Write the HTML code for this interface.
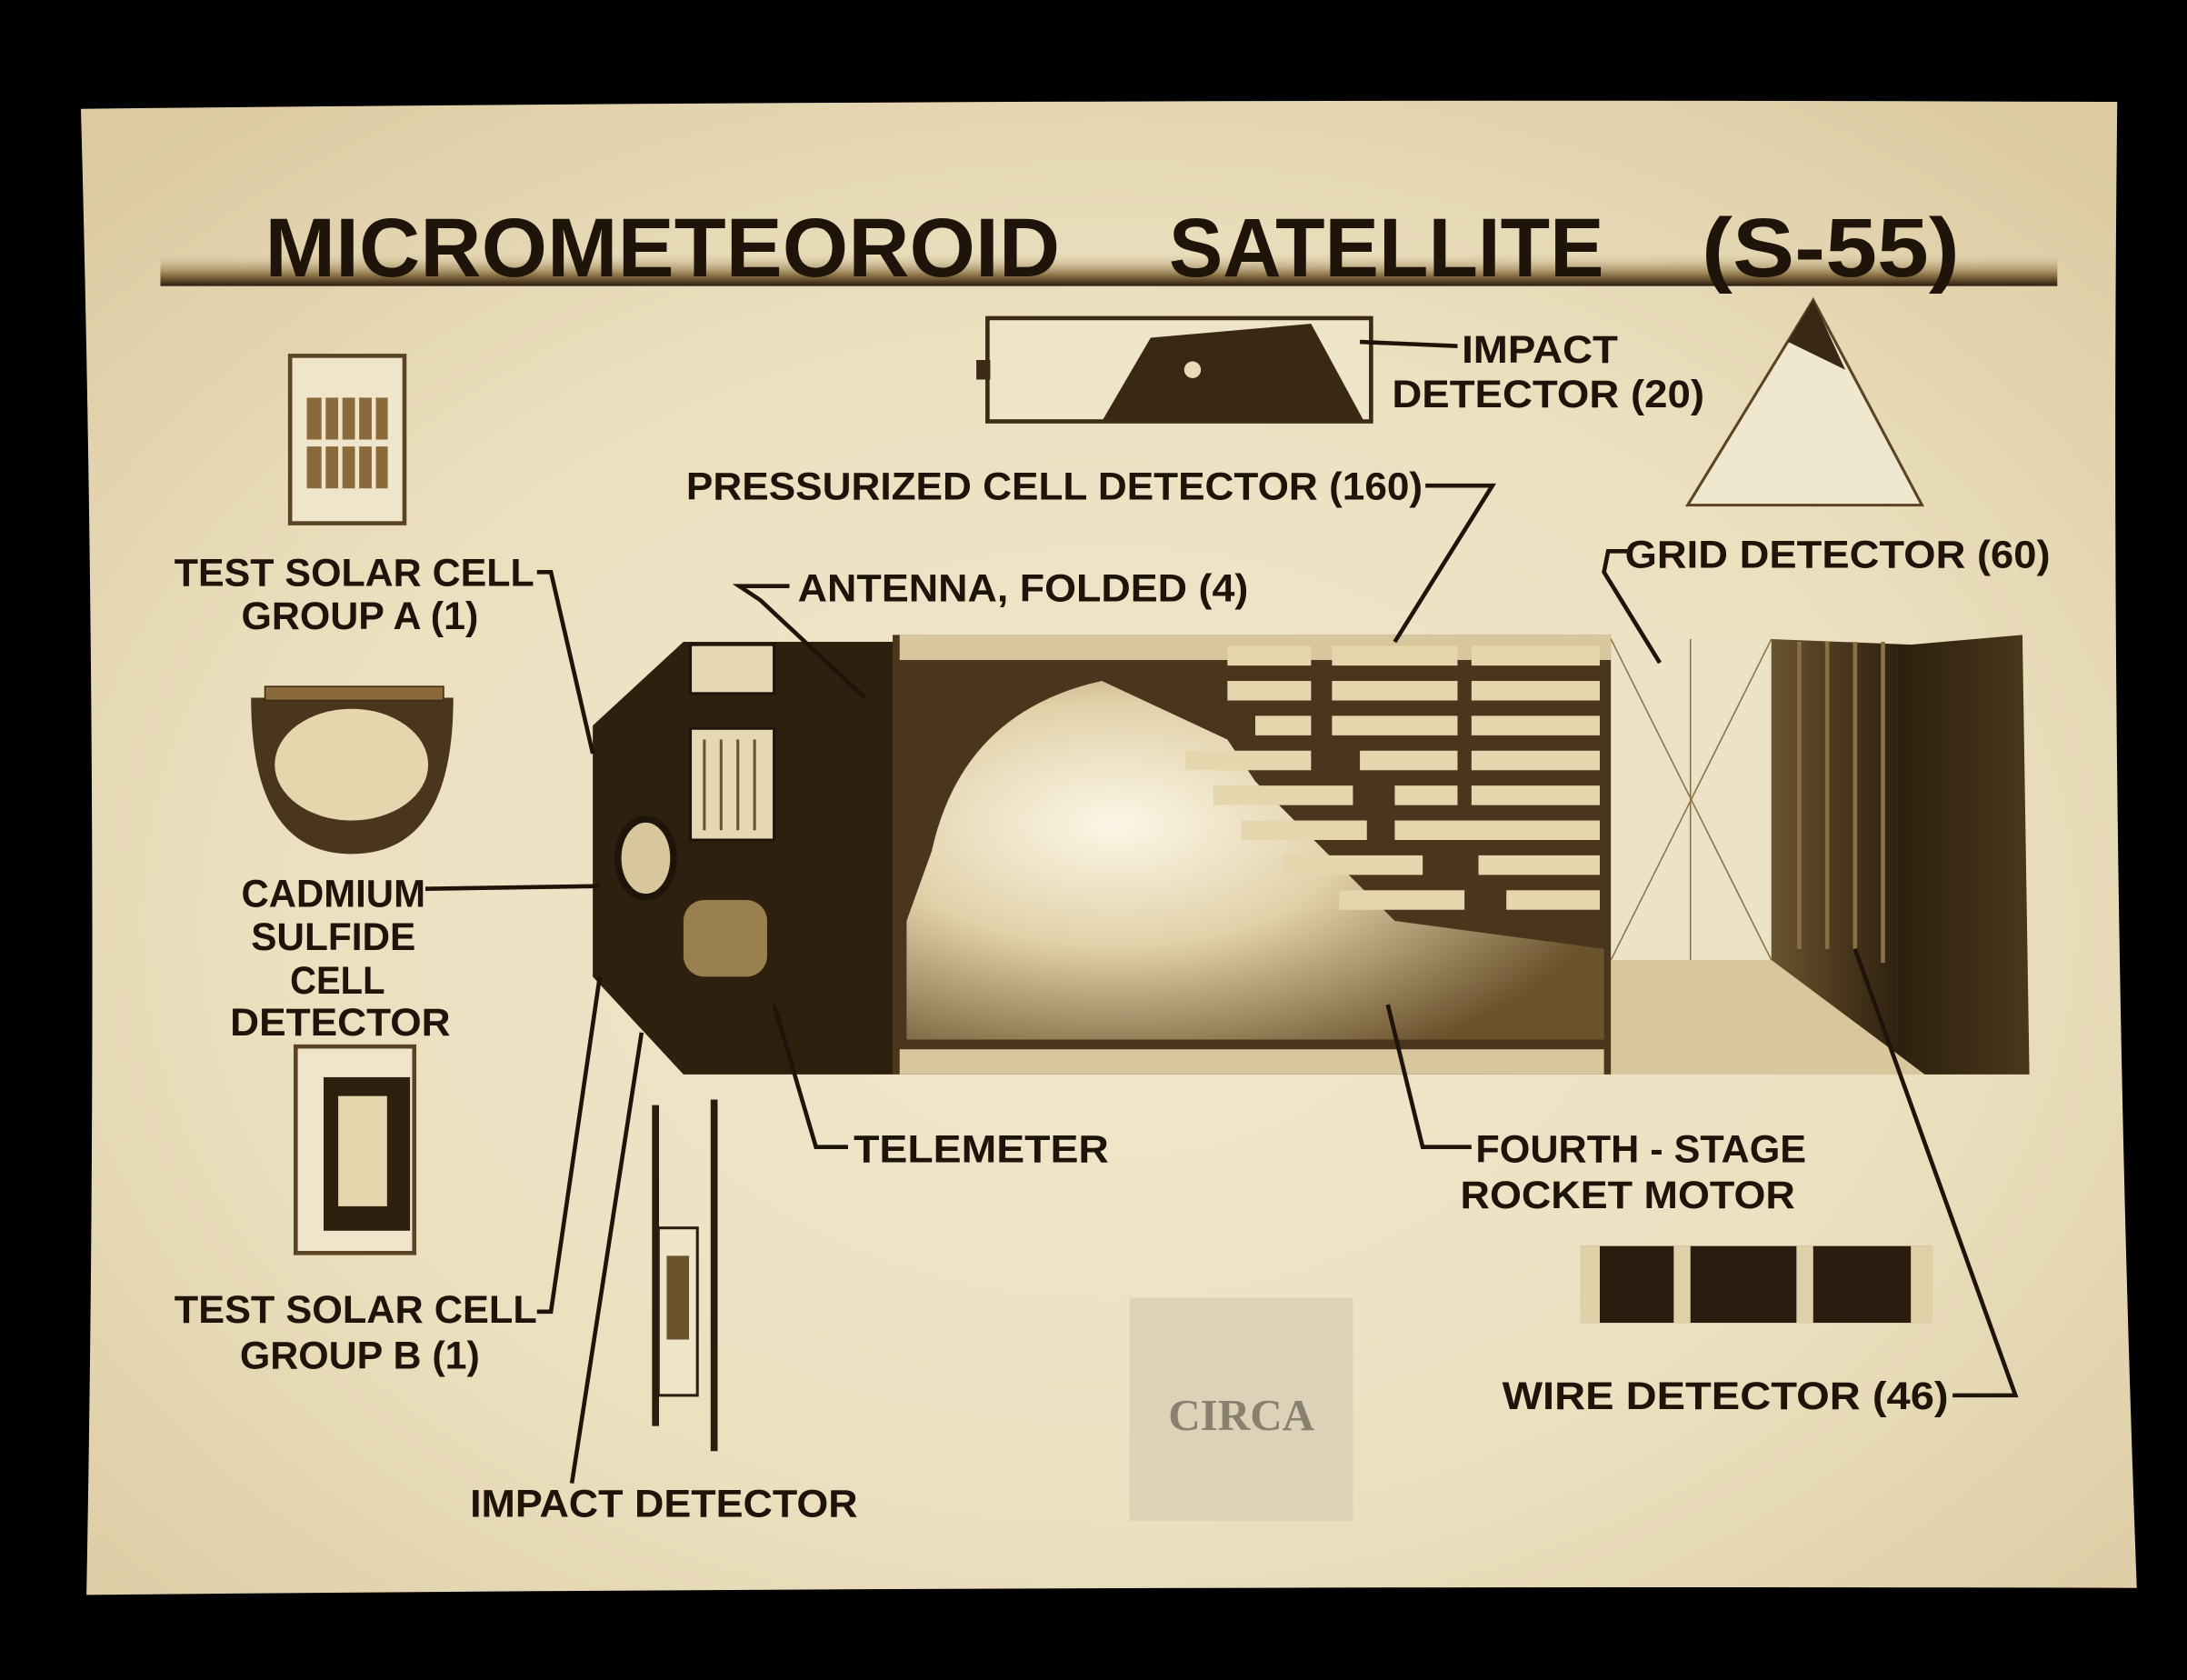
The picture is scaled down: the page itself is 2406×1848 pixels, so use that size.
<!DOCTYPE html>
<html><head><meta charset="utf-8"><style>
html,body{margin:0;padding:0;background:#000;}
svg{display:block}
text{font-family:"Liberation Sans",sans-serif;font-weight:bold;fill:#1e140a}
</style></head><body>
<svg width="2406" height="1848" viewBox="0 0 1568 1204" preserveAspectRatio="none" xmlns="http://www.w3.org/2000/svg">
<defs>
<radialGradient id="pg" cx="0.5" cy="0.55" r="0.7">
<stop offset="0" stop-color="#f1e8cf"/><stop offset="0.6" stop-color="#ebdfbe"/><stop offset="1" stop-color="#dccba2"/>
</radialGradient>
<linearGradient id="tb" x1="0" y1="0" x2="0" y2="1">
<stop offset="0" stop-color="#e9dcb8" stop-opacity="0"/><stop offset="0.7" stop-color="#8a7043"/><stop offset="1" stop-color="#2a1d10"/>
</linearGradient>
<radialGradient id="sph" cx="0.3" cy="0.4" r="0.75">
<stop offset="0" stop-color="#fbf6e6"/><stop offset="0.45" stop-color="#e2d2aa"/><stop offset="1" stop-color="#6b532e"/>
</radialGradient>
<linearGradient id="mot" x1="0" y1="0" x2="1" y2="0">
<stop offset="0" stop-color="#6b532e"/><stop offset="0.5" stop-color="#2e200f"/><stop offset="1" stop-color="#4a381c"/>
</linearGradient>
</defs>
<rect width="1568" height="1204" fill="#000"/>
<path d="M58,78 Q790,70 1518,73 Q1512,600 1532,1138 Q800,1136 62,1143 Q72,600 58,78Z" fill="url(#pg)"/>
<rect x="115" y="180" width="1360" height="25" fill="url(#tb)"/>
<g font-size="60">
<text x="190" y="198" textLength="570" lengthAdjust="spacingAndGlyphs">MICROMETEOROID</text>
<text x="838" y="198" textLength="312" lengthAdjust="spacingAndGlyphs">SATELLITE</text>
<text x="1220" y="198" textLength="185" lengthAdjust="spacingAndGlyphs">(S-55)</text>
</g>

<rect x="708" y="228" width="275" height="74" fill="#eee4c8" stroke="#3a2a16" stroke-width="3"/>
<polygon points="790,302 825,242 940,232 978,302" fill="#3a2814"/>
<circle cx="855" cy="265" r="6" fill="#e8dcb8"/>
<rect x="700" y="258" width="10" height="14" fill="#3a2a16"/>
<line x1="975" y1="245" x2="1045" y2="248" stroke="#1e140a" stroke-width="3"/>
<text x="1048" y="260" font-size="28" textLength="112" lengthAdjust="spacingAndGlyphs">IMPACT</text>
<text x="998" y="292" font-size="28" textLength="224" lengthAdjust="spacingAndGlyphs">DETECTOR (20)</text>

<polygon points="1300,215 1210,362 1378,362" fill="#f0e7cf" stroke="#5a4424" stroke-width="2"/>
<polygon points="1300,215 1282,245 1323,265" fill="#3a2814"/>

<rect x="208" y="255" width="82" height="120" fill="#efe5cb" stroke="#5a4424" stroke-width="3"/>
<g fill="#8a6a3a"><rect x="220" y="285" width="58" height="30"/><rect x="220" y="320" width="58" height="30"/></g>
<g stroke="#efe5cb" stroke-width="3"><line x1="232" y1="285" x2="232" y2="350"/><line x1="244" y1="285" x2="244" y2="350"/><line x1="256" y1="285" x2="256" y2="350"/><line x1="268" y1="285" x2="268" y2="350"/></g>

<path d="M180,500 L325,500 Q325,612 252,612 Q180,612 180,500Z" fill="#4a361c"/>
<ellipse cx="252" cy="548" rx="55" ry="40" fill="#e6d6ae"/>
<rect x="190" y="492" width="128" height="10" fill="#8a6a3a" stroke="#3a2814"/>

<rect x="212" y="750" width="85" height="148" fill="#efe5cb" stroke="#5a4424" stroke-width="3"/>
<rect x="232" y="772" width="62" height="110" fill="#2e200f"/>
<rect x="242" y="785" width="36" height="80" fill="#e6d6ae" stroke="#2e200f"/>

<line x1="470" y1="792" x2="470" y2="1022" stroke="#2a1d10" stroke-width="5"/>
<line x1="512" y1="788" x2="512" y2="1040" stroke="#2a1d10" stroke-width="5"/>
<rect x="472" y="880" width="28" height="120" fill="#eee4c8" stroke="#2a1d10" stroke-width="2"/>
<rect x="478" y="900" width="16" height="60" fill="#6b532e"/>

<rect x="1133" y="893" width="252" height="55" fill="#2a1d10"/>
<rect x="1133" y="893" width="14" height="55" fill="#e0d0a8"/>
<rect x="1200" y="893" width="12" height="55" fill="#e0d0a8"/>
<rect x="1288" y="893" width="12" height="55" fill="#e0d0a8"/>
<rect x="1370" y="893" width="16" height="55" fill="#e0d0a8"/>

<polygon points="425,520 490,460 640,460 640,770 490,770 425,700" fill="#2e200f"/>
<rect x="495" y="462" width="60" height="35" fill="#e6d8b4" stroke="#1e140a" stroke-width="2"/>
<rect x="495" y="522" width="60" height="80" fill="#e6d8b4" stroke="#1e140a" stroke-width="2"/>
<g stroke="#6b532e" stroke-width="2"><line x1="505" y1="530" x2="505" y2="595"/><line x1="517" y1="530" x2="517" y2="595"/><line x1="529" y1="530" x2="529" y2="595"/><line x1="541" y1="530" x2="541" y2="595"/></g>
<ellipse cx="463" cy="615" rx="20" ry="28" fill="#d8c69c" stroke="#1e140a" stroke-width="5"/>
<rect x="490" y="645" width="60" height="55" rx="15" fill="#9a804f"/>
<rect x="640" y="455" width="515" height="315" fill="#4a361c"/>
<rect x="645" y="455" width="510" height="18" fill="#d8c69c"/>
<rect x="645" y="752" width="505" height="18" fill="#d8c69c"/>
<path d="M668,610 Q690,510 790,488 L880,530 L900,560 L1000,660 L1150,680 L1150,745 L650,745 L650,660Z" fill="url(#sph)"/>
<g fill="#e6d6ae">
<rect x="880" y="463" width="60" height="14"/><rect x="955" y="463" width="90" height="14"/><rect x="1055" y="463" width="92" height="14"/>
<rect x="880" y="488" width="60" height="14"/><rect x="955" y="488" width="90" height="14"/><rect x="1055" y="488" width="92" height="14"/>
<rect x="900" y="513" width="40" height="14"/><rect x="955" y="513" width="90" height="14"/><rect x="1055" y="513" width="92" height="14"/>
<rect x="850" y="538" width="90" height="14"/><rect x="975" y="538" width="70" height="14"/><rect x="1055" y="538" width="92" height="14"/>
<rect x="870" y="563" width="100" height="14"/><rect x="1000" y="563" width="45" height="14"/><rect x="1055" y="563" width="92" height="14"/>
<rect x="890" y="588" width="90" height="14"/><rect x="1000" y="588" width="147" height="14"/>
<rect x="920" y="613" width="100" height="14"/><rect x="1060" y="613" width="87" height="14"/>
<rect x="960" y="638" width="90" height="14"/><rect x="1080" y="638" width="67" height="14"/>
</g>
<rect x="1155" y="458" width="115" height="230" fill="#ece2c6"/>
<polygon points="1155,688 1270,688 1380,770 1155,770" fill="#d8c69c"/>
<g stroke="#8a7043" stroke-width="1"><line x1="1155" y1="458" x2="1270" y2="688"/><line x1="1270" y1="458" x2="1155" y2="688"/><line x1="1212" y1="458" x2="1212" y2="688"/></g>
<polygon points="1270,458 1370,462 1450,455 1455,770 1380,770 1270,688" fill="url(#mot)"/>
<g stroke="#8a7043" stroke-width="3"><line x1="1290" y1="460" x2="1290" y2="680"/><line x1="1310" y1="460" x2="1310" y2="680"/><line x1="1330" y1="460" x2="1330" y2="680"/><line x1="1350" y1="460" x2="1350" y2="690"/></g>

<g fill="none" stroke="#1e140a" stroke-width="3">
<polyline points="1022,348 1070,348 1000,460"/>
<polyline points="1168,395 1153,395 1150,410 1190,475"/>
<polyline points="385,410 395,410 425,540"/>
<polyline points="566,420 530,420 545,430 620,500"/>
<polyline points="305,637 430,635"/>
<polyline points="608,822 585,822 555,720"/>
<polyline points="1055,822 1020,822 995,720"/>
<polyline points="385,940 395,940 430,700"/>
<polyline points="410,1063 460,740"/>
<polyline points="1400,1000 1445,1000 1330,680"/>
</g>

<g font-size="28">
<text x="492" y="358" textLength="528" lengthAdjust="spacingAndGlyphs">PRESSURIZED CELL DETECTOR (160)</text>
<text x="1165" y="407" textLength="305" lengthAdjust="spacingAndGlyphs">GRID DETECTOR (60)</text>
<text x="125" y="420" textLength="258" lengthAdjust="spacingAndGlyphs">TEST SOLAR CELL</text>
<text x="173" y="451" textLength="170" lengthAdjust="spacingAndGlyphs">GROUP A (1)</text>
<text x="572" y="431" textLength="323" lengthAdjust="spacingAndGlyphs">ANTENNA, FOLDED (4)</text>
<text x="173" y="650" textLength="132" lengthAdjust="spacingAndGlyphs">CADMIUM</text>
<text x="180" y="681" textLength="118" lengthAdjust="spacingAndGlyphs">SULFIDE</text>
<text x="208" y="712" textLength="68" lengthAdjust="spacingAndGlyphs">CELL</text>
<text x="165" y="742" textLength="158" lengthAdjust="spacingAndGlyphs">DETECTOR</text>
<text x="612" y="833" textLength="183" lengthAdjust="spacingAndGlyphs">TELEMETER</text>
<text x="1058" y="833" textLength="237" lengthAdjust="spacingAndGlyphs">FOURTH - STAGE</text>
<text x="1047" y="866" textLength="240" lengthAdjust="spacingAndGlyphs">ROCKET MOTOR</text>
<text x="125" y="948" textLength="260" lengthAdjust="spacingAndGlyphs">TEST SOLAR CELL</text>
<text x="172" y="981" textLength="172" lengthAdjust="spacingAndGlyphs">GROUP B (1)</text>
<text x="1077" y="1010" textLength="320" lengthAdjust="spacingAndGlyphs">WIRE DETECTOR (46)</text>
<text x="337" y="1087" textLength="278" lengthAdjust="spacingAndGlyphs">IMPACT DETECTOR</text>
</g>

<rect x="810" y="930" width="160" height="160" fill="#d6ccb4" opacity="0.7"/>
<text x="890" y="1025" font-size="32" text-anchor="middle" style="font-family:'Liberation Serif',serif;fill:#8a8070">CIRCA</text>
</svg>
</body></html>
